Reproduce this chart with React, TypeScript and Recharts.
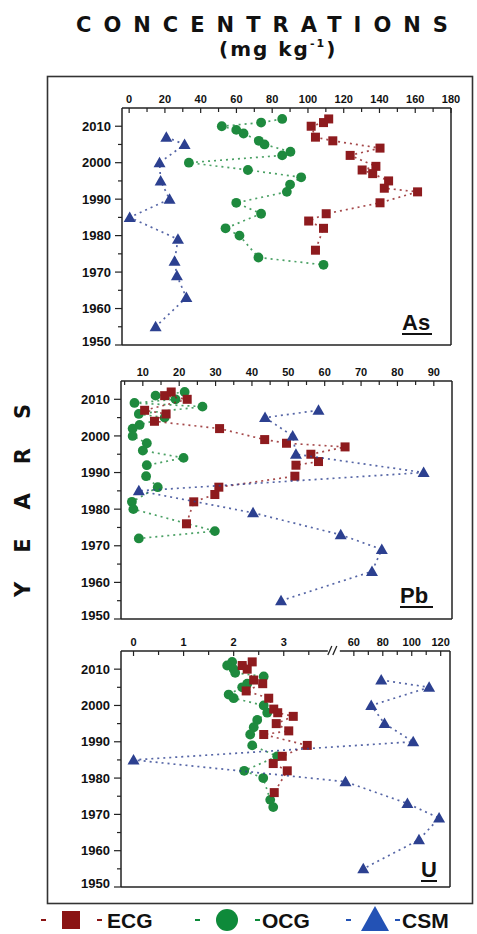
import React from 'react';
import { ScatterChart, Scatter, XAxis, YAxis, ReferenceLine } from 'recharts';

// ---------- data ----------
const ecgYears = [2012, 2011, 2010, 2007, 2006, 2004, 2002, 1999, 1998, 1997, 1995, 1993, 1992, 1989, 1986, 1984, 1982, 1976];
const ocgYears = [2012, 2011, 2010, 2009, 2008, 2006, 2005, 2003, 2002, 2000, 1998, 1996, 1994, 1992, 1989, 1986, 1982, 1980, 1974, 1972];
const csmYears = [2007, 2005, 2000, 1995, 1990, 1985, 1979, 1973, 1969, 1963, 1955];

const ecgAs = [111.6, 108.7, 101.8, 104.2, 113.9, 140.3, 123.6, 138, 130.3, 136.2, 145.1, 142.7, 161.3, 140.3, 110.2, 100.4, 108.7, 104.2];
const ocgAs = [85.6, 73.8, 51.8, 59.9, 64, 72.5, 75.7, 90.2, 85.6, 33.4, 66.4, 96.2, 90, 88.2, 59.9, 73.8, 53.9, 61.7, 72.3, 108.7];
const csmAs = [20.8, 31, 17, 17.6, 22.6, 0.3, 27.3, 25.4, 26.7, 32, 14.8];

const ecgPb = [17.8, 16, 22.2, 10.5, 16.4, 13.2, 31.1, 43.5, 49.5, 65.6, 56.2, 58.3, 52.1, 51.8, 30.9, 29.8, 24, 22];
const ocgPb = [21.5, 13.5, 19, 7.7, 26.4, 8.9, 16, 9.1, 7.2, 7.2, 11.1, 10, 21.2, 11.1, 10.9, 14.1, 7, 7.4, 29.8, 8.9];
const csmPb = [58.3, 43.6, 51.2, 52.1, 87.2, 8.9, 40.3, 64.4, 75.7, 73, 48];

const ecgU = [2.37, 2.17, 2.27, 2.4, 2.58, 2.25, 2.7, 2.8, 2.88, 3.19, 2.85, 3.1, 2.6, 3.47, 2.97, 2.79, 3.07, 2.81];
const ocgU = [1.97, 1.87, 2.0, 2.03, 2.6, 2.27, 2.17, 1.9, 2.0, 2.6, 2.67, 2.47, 2.4, 2.33, 2.37, 2.87, 2.21, 2.59, 2.73, 2.79];
const csmU = [78.9, 112, 72, 81.2, 101, 0, 54.2, 97, 118.9, 105, 66.5];

const asTicks = [0, 10, 20, 30, 40, 50, 60, 70, 80, 90, 100, 110, 120, 130, 140, 150, 160, 170, 180];
const pbTicks = [5, 10, 15, 20, 25, 30, 35, 40, 45, 50, 55, 60, 65, 70, 75, 80, 85, 90];
const uLowTicks = [0, 0.5, 1, 1.5, 2, 2.5, 3, 3.5];
const uHighTicks = [60, 70, 80, 90, 100, 110, 120];
const yearTicks = [1950, 1955, 1960, 1965, 1970, 1975, 1980, 1985, 1990, 1995, 2000, 2005, 2010];
const legendLabels = ['ECG', 'OCG', 'CSM'];

// ---------- broken U axis ----------
const U_BREAK = 4;
const uToAxis = (v: number) => (v < U_BREAK ? v : 4.4 + (v - 60) * 0.0289);
const uFromAxis = (d: number) => (d <= U_BREAK ? d : Math.round(60 + (d - 4.4) / 0.0289));

const FONT = "'Liberation Sans', Arial, Helvetica, sans-serif";
const HEAVY = "'DejaVu Sans', 'Liberation Sans', Arial, sans-serif";
const C = { ecg: '#8e1b1e', ocg: '#1e8a3e', csm: '#2c4090', axis: '#222' };
const LC = { ecg: '#8a1414', ocg: '#0e8a3a', csm: '#2352b5' };

const pts = (years: number[], vals: number[], f = (v: number) => v) =>
  years.map((y, i) => ({ x: f(vals[i]), y }));

// ---------- shapes ----------
const Square = (p: any) => <rect x={p.cx - 4.5} y={p.cy - 4.5} width={9} height={9} fill={C.ecg} />;
const Dot = (p: any) => <circle cx={p.cx} cy={p.cy} r={4.9} fill={C.ocg} />;
const Tri = (p: any) => (
  <polygon points={`${p.cx},${p.cy - 6} ${p.cx - 6},${p.cy + 4.5} ${p.cx + 6},${p.cy + 4.5}`} fill={C.csm} />
);

// ---------- ticks ----------
const makeTopTick = (labelFn: (v: number) => string | null, breakAt?: number) => (props: any) => {
  const { x, y, payload } = props;
  const v = payload.value;
  if (breakAt !== undefined && Math.abs(v - breakAt) < 1e-6) {
    return (
      <g>
        <rect x={x - 6} y={y - 3} width={12} height={6} fill="#fff" />
        <line x1={x - 6} y1={y + 4} x2={x - 2} y2={y - 5} stroke={C.axis} strokeWidth={1.3} />
        <line x1={x - 1} y1={y + 4} x2={x + 3} y2={y - 5} stroke={C.axis} strokeWidth={1.3} />
      </g>
    );
  }
  const label = labelFn(v);
  return (
    <g>
      <line x1={x} x2={x} y1={y} y2={y + (label !== null ? 5 : 4)} stroke={C.axis} strokeWidth={1.2} />
      {label !== null && (
        <text x={x} y={y - 5} textAnchor="middle" fontSize={11} fontWeight="bold" fill="#111" fontFamily={FONT}>
          {label}
        </text>
      )}
    </g>
  );
};

const asTick = makeTopTick((v) => (v % 20 === 0 ? String(v) : null));
const pbTick = makeTopTick((v) => (v % 10 === 0 ? String(v) : null));
const uTick = makeTopTick((d) => {
  const v = uFromAxis(d);
  if (d <= U_BREAK) return Number.isInteger(v) ? String(v) : null;
  return v % 20 === 0 ? String(v) : null;
}, U_BREAK);

const YTick = (props: any) => {
  const { x, y, payload } = props;
  const v = payload.value;
  const major = v % 10 === 0;
  return (
    <g>
      <line x1={x - (major ? 7 : 4)} x2={x} y1={y} y2={y} stroke={C.axis} strokeWidth={1.2} />
      {major && (
        <text x={x - 11} y={y + (v === 1950 ? -4 : 0)} dy="0.36em" textAnchor="end" fontSize={13} fontWeight="bold" fill="#111" fontFamily={FONT}>
          {v}
        </text>
      )}
    </g>
  );
};

const lineStyle = (color: string) => ({ stroke: color, strokeWidth: 1.7, strokeDasharray: '2 4', strokeOpacity: 0.8 });

type PanelProps = {
  top: number;
  height: number;
  margin: { top: number; right: number; bottom: number; left: number };
  xDomain: [number, number];
  xTicks: number[];
  tick: any;
  ecg: { x: number; y: number }[];
  ocg: { x: number; y: number }[];
  csm: { x: number; y: number }[];
};

function Panel({ top, height, margin, xDomain, xTicks, tick, ecg, ocg, csm }: PanelProps) {
  const axisLine = { stroke: C.axis, strokeWidth: 1.5 };
  return (
    <div style={{ position: 'absolute', left: 0, top, width: 477, height }}>
      <ScatterChart width={477} height={height} margin={margin}>
        <XAxis xAxisId="t" type="number" dataKey="x" orientation="top" domain={xDomain} ticks={xTicks} interval={0}
          tick={tick} tickLine={false} tickSize={0} tickMargin={0} height={22} allowDataOverflow
          stroke={C.axis} axisLine={axisLine} />
        <YAxis yAxisId="l" type="number" dataKey="y" domain={[1950, 2015]} ticks={yearTicks} interval={0}
          tick={YTick} tickLine={false} tickSize={0} tickMargin={0} width={60} allowDataOverflow
          stroke={C.axis} axisLine={axisLine} />
        <ReferenceLine xAxisId="t" yAxisId="l" x={xDomain[1]} stroke={C.axis} strokeWidth={1.5} ifOverflow="visible" />
        <ReferenceLine xAxisId="t" yAxisId="l" y={1950} stroke={C.axis} strokeWidth={1.5} ifOverflow="visible" />
        <Scatter xAxisId="t" yAxisId="l" data={ocg} shape={Dot} line={lineStyle(C.ocg)} lineType="joint" isAnimationActive={false} />
        <Scatter xAxisId="t" yAxisId="l" data={ecg} shape={Square} line={lineStyle(C.ecg)} lineType="joint" isAnimationActive={false} />
        <Scatter xAxisId="t" yAxisId="l" data={csm} shape={Tri} line={lineStyle(C.csm)} lineType="joint" isAnimationActive={false} />
      </ScatterChart>
    </div>
  );
}

function PanelLabel({ x, y, text, w }: { x: number; y: number; text: string; w: number }) {
  return (
    <g>
      <text x={x} y={y} fontSize={22} fontWeight="bold" fill="#111" fontFamily={FONT}>{text}</text>
      <line x1={x} x2={x + w} y1={y + 4} y2={y + 4} stroke="#111" strokeWidth={2} />
    </g>
  );
}

export default function App() {
  return (
    <div style={{ position: 'absolute', left: 0, top: 0, width: 477, height: 934, background: '#fff', fontFamily: FONT }}>
      <Panel top={80} height={270} margin={{ top: 6, right: 26, bottom: 5, left: 62 }} xDomain={[-4, 180]}
        xTicks={asTicks} tick={asTick} ecg={pts(ecgYears, ecgAs)} ocg={pts(ocgYears, ocgAs)} csm={pts(csmYears, csmAs)} />
      <Panel top={355} height={270} margin={{ top: 4, right: 25, bottom: 6, left: 61 }} xDomain={[4, 95]}
        xTicks={pbTicks} tick={pbTick} ecg={pts(ecgYears, ecgPb)} ocg={pts(ocgYears, ocgPb)} csm={pts(csmYears, csmPb)} />
      <Panel top={625} height={270} margin={{ top: 4, right: 27, bottom: 8, left: 61 }} xDomain={[-0.25, 6.32]}
        xTicks={[...uLowTicks, U_BREAK, ...uHighTicks.map(uToAxis)]} tick={uTick}
        ecg={pts(ecgYears, ecgU, uToAxis)} ocg={pts(ocgYears, ocgU, uToAxis)} csm={pts(csmYears, csmU, uToAxis)} />

      <svg width={477} height={934} style={{ position: 'absolute', left: 0, top: 0, pointerEvents: 'none' }}>
        <text x={76} y={32} fontSize={21} fontWeight="bold" letterSpacing={12} fill="#111" fontFamily={HEAVY}>CONCENTRATIONS</text>
        <text x={219} y={56} fontSize={20} fontWeight="bold" letterSpacing={2} fill="#111" fontFamily={HEAVY}>
          (mg kg<tspan fontSize={11} dy={-9}>-1</tspan><tspan dy={9}>)</tspan>
        </text>
        <rect x={47.5} y={76.5} width={425} height={827} fill="none" stroke="#333" strokeWidth={1.6} />
        <text transform="translate(30,597) rotate(-90)" x={0} y={0} fontSize={21} fontWeight="bold" letterSpacing={29} fill="#111" fontFamily={HEAVY}>YEARS</text>

        <PanelLabel x={402} y={330} text="As" w={30} />
        <PanelLabel x={400} y={603} text="Pb" w={33} />
        <PanelLabel x={421} y={877} text="U" w={16} />

        {/* legend */}
        <line x1={41} x2={46} y1={920} y2={920} stroke={LC.ecg} strokeWidth={2} />
        <rect x={62} y={911} width={18} height={18} fill={LC.ecg} />
        <line x1={97} x2={102} y1={920} y2={920} stroke={LC.ecg} strokeWidth={2} />
        <text x={107} y={928} fontSize={21} fontWeight="bold" fill="#111" fontFamily={FONT}>{legendLabels[0]}</text>

        <line x1={195} x2={200} y1={920} y2={920} stroke={LC.ocg} strokeWidth={2} />
        <circle cx={227} cy={920} r={11} fill={LC.ocg} />
        <line x1={255} x2={260} y1={920} y2={920} stroke={LC.ocg} strokeWidth={2} />
        <text x={262} y={928} fontSize={21} fontWeight="bold" fill="#111" fontFamily={FONT}>{legendLabels[1]}</text>

        <line x1={346} x2={351} y1={920} y2={920} stroke={LC.csm} strokeWidth={2} />
        <polygon points="375,906 361,931 389,931" fill={LC.csm} />
        <line x1={395} x2={400} y1={920} y2={920} stroke={LC.csm} strokeWidth={2} />
        <text x={402} y={928} fontSize={21} fontWeight="bold" fill="#111" fontFamily={FONT}>{legendLabels[2]}</text>
      </svg>
    </div>
  );
}
